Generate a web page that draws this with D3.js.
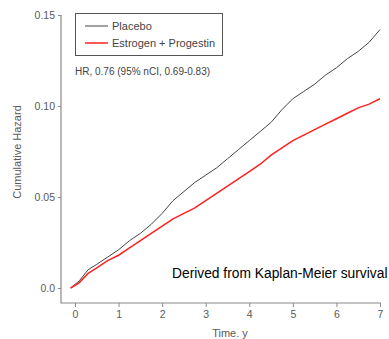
<!DOCTYPE html>
<html>
<head>
<meta charset="utf-8">
<script src="https://cdn.jsdelivr.net/npm/d3@7"></script>
<style>
  body { margin: 0; background: #fff; }
  svg { display: block; font-family: "Liberation Sans", Arial, Helvetica, sans-serif; }
</style>
</head>
<body>
<div id="chart"></div>
<script>
// Time points (years) and cumulative hazard
const times = [-0.1, 0.1, 0.3, 0.5, 0.75, 1.0, 1.25, 1.5, 1.75, 2.0, 2.25, 2.5, 2.75, 3.0, 3.25,
               3.5, 3.75, 4.0, 4.25, 4.5, 4.75, 5.0, 5.25, 5.5, 5.75, 6.0, 6.25, 6.5, 6.75, 7.0];
const placebo = [0, 0.004, 0.010, 0.013, 0.017, 0.021, 0.026, 0.030, 0.035, 0.041, 0.048, 0.053,
                 0.058, 0.062, 0.066, 0.071, 0.076, 0.081, 0.086, 0.091, 0.098, 0.104, 0.108,
                 0.112, 0.117, 0.121, 0.126, 0.130, 0.135, 0.142];
const estrogen = [0, 0.003, 0.008, 0.011, 0.015, 0.018, 0.022, 0.026, 0.030, 0.034, 0.038, 0.041,
                  0.044, 0.048, 0.052, 0.056, 0.060, 0.064, 0.068, 0.073, 0.077, 0.081, 0.084,
                  0.087, 0.090, 0.093, 0.096, 0.099, 0.101, 0.104];
const xTicks = [0, 1, 2, 3, 4, 5, 6, 7];
const yTicks = [0, 0.05, 0.10, 0.15];
const yTickLabels = ["0.0", "0.05", "0.10", "0.15"];
const seriesNames = ["Placebo", "Estrogen + Progestin"];

const width = 389, height = 339;

const svg = d3.select("#chart")
  .append("svg")
  .attr("width", width)
  .attr("height", height);

const x = d3.scaleLinear().domain([0, 7]).range([75, 380]);
const y = d3.scaleLinear().domain([0, 0.15]).range([288, 15]);

const axisColor = "#8a8a8a";
const labelColor = "#5a5a5a";

// L-shaped frame
const xLeft = 61, yBottom = 303;
svg.append("path")
  .attr("d", "M" + xLeft + "," + y(0.15) + "V" + yBottom + "H" + (x(7) + 1))
  .attr("fill", "none")
  .attr("stroke", axisColor)
  .attr("stroke-width", 1.2);

// X axis ticks
const xAxis = svg.append("g")
  .attr("transform", "translate(0," + yBottom + ")")
  .call(d3.axisBottom(x).tickValues(xTicks).tickSize(4).tickPadding(4).tickFormat(d3.format("d")));
xAxis.select(".domain").remove();
xAxis.selectAll(".tick line").attr("stroke", axisColor);
xAxis.selectAll(".tick text").attr("fill", labelColor).style("font-size", "10.5px")
  .style("font-family", "inherit");

// Y axis ticks
const yAxis = svg.append("g")
  .attr("transform", "translate(" + xLeft + ",0)")
  .call(d3.axisLeft(y).tickValues(yTicks).tickSize(3).tickPadding(3)
    .tickFormat((d, i) => yTickLabels[i]));
yAxis.select(".domain").remove();
yAxis.selectAll(".tick line").attr("stroke", axisColor);
yAxis.selectAll(".tick text").attr("fill", labelColor).style("font-size", "10.5px")
  .style("font-family", "inherit");

// axis titles
svg.append("text")
  .attr("transform", "translate(21,152) rotate(-90)")
  .attr("text-anchor", "middle")
  .attr("fill", labelColor)
  .style("font-size", "11px")
  .text("Cumulative Hazard");

svg.append("text")
  .attr("x", 230)
  .attr("y", 337)
  .attr("text-anchor", "middle")
  .attr("fill", labelColor)
  .style("font-size", "11px")
  .text("Time. y");

// curves
const line = d3.line()
  .x((d, i) => x(times[i]))
  .y(d => y(d));

svg.append("path")
  .datum(placebo)
  .attr("d", line)
  .attr("fill", "none")
  .attr("stroke", "#444")
  .attr("stroke-width", 1);

svg.append("path")
  .datum(estrogen)
  .attr("d", line)
  .attr("fill", "none")
  .attr("stroke", "#ff2020")
  .attr("stroke-width", 1.5);

// legend
const legend = svg.append("g");
legend.append("rect")
  .attr("x", 75.5).attr("y", 13.5)
  .attr("width", 147).attr("height", 42)
  .attr("fill", "none")
  .attr("stroke", "#555");

const legendColors = ["#444", "#ff2020"];
const legendWidths = [1, 1.5];
seriesNames.forEach(function(name, i) {
  const ly = 26 + i * 17;
  legend.append("line")
    .attr("x1", 85).attr("x2", 108)
    .attr("y1", ly).attr("y2", ly)
    .attr("stroke", legendColors[i])
    .attr("stroke-width", legendWidths[i]);
  legend.append("text")
    .attr("x", 112).attr("y", ly + 4)
    .attr("fill", "#444")
    .style("font-size", "11px")
    .text(name);
});

svg.append("text")
  .attr("x", 75).attr("y", 75)
  .attr("fill", "#444")
  .style("font-size", "10px")
  .text("HR, 0.76 (95% nCI, 0.69-0.83)");

svg.append("text")
  .attr("x", 172).attr("y", 278)
  .attr("fill", "#000")
  .style("font-size", "13.8px")
  .text("Derived from Kaplan-Meier survival");
</script>
</body>
</html>
